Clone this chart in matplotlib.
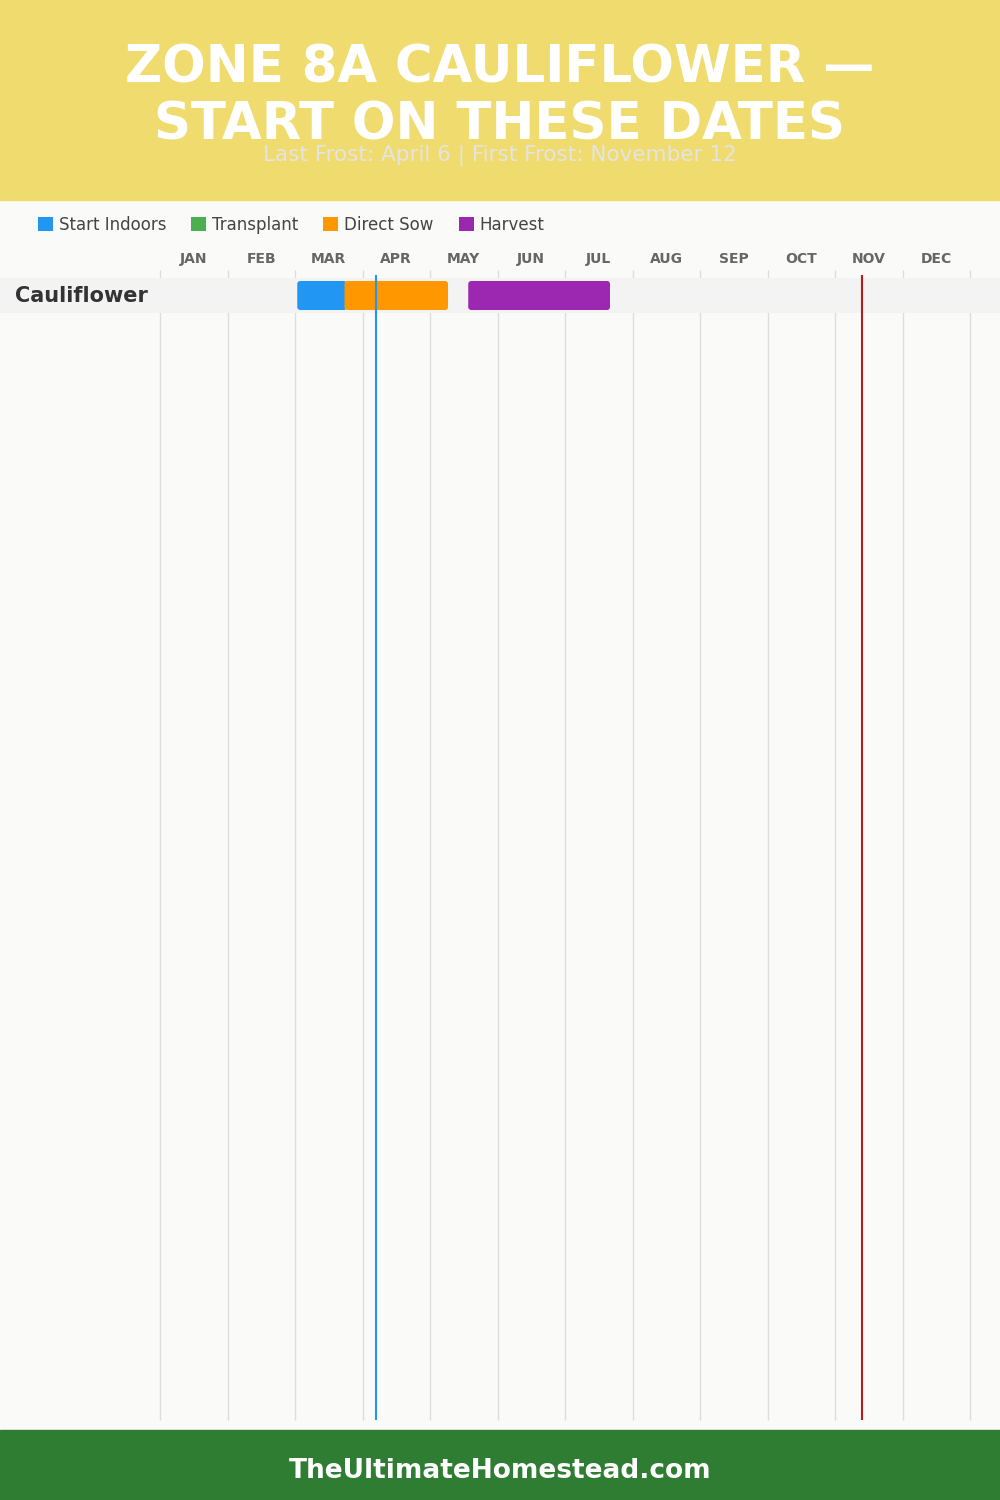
import matplotlib
matplotlib.use('Agg')
import matplotlib.pyplot as plt
import matplotlib.transforms as mtransforms
from matplotlib.patches import Rectangle, FancyBboxPatch, Patch

# data
title = 'ZONE 8A CAULIFLOWER —\nSTART ON THESE DATES'
subtitle = 'Last Frost: April 6 | First Frost: November 12'
footer = 'TheUltimateHomestead.com'

months = ['JAN', 'FEB', 'MAR', 'APR', 'MAY', 'JUN',
          'JUL', 'AUG', 'SEP', 'OCT', 'NOV', 'DEC']
crops = ['Cauliflower']
stages = ['Start Indoors', 'Transplant', 'Direct Sow', 'Harvest']
stage_colors = ['#2196F3', '#4CAF50', '#FF9800', '#9C27B0']

bar_crop = ['Cauliflower', 'Cauliflower', 'Cauliflower']
bar_stage = ['Start Indoors', 'Direct Sow', 'Harvest']
bar_start = [(3, 1), (3, 22), (5, 17)]   # (month, day)
bar_end = [(3, 23), (5, 8), (7, 20)]
last_frost = (4, 6)
first_frost = (11, 12)


def mpos(md):
    return md[0] - 1 + md[1] / 30


# layout (pixels of a 1000x1500 figure)
W, H = 1000, 1500
x0, mw = 160, 67.5          # left of JAN, width of one month
ax_top, ax_bot = 200, 1430
row_c, row_h = 295.5, 35    # centre of first row, row height


def py(p):
    return (p - row_c) / row_h


fig = plt.figure(figsize=(10, 15), dpi=100)
fig.patch.set_facecolor('#FAFAF9')

ax = fig.add_axes([0, 1 - ax_bot / H, 1, (ax_bot - ax_top) / H])
ax.set_xlim(-x0 / mw, (W - x0) / mw)
ax.set_ylim(py(ax_bot), py(ax_top))
ax.axis('off')

# header / footer bands
fig.add_artist(Rectangle((0, 1 - 200 / H), 1, 200 / H, transform=fig.transFigure,
                         color='#F0DB6E', zorder=0))
fig.add_artist(Rectangle((0, 0), 1, 70 / H, transform=fig.transFigure,
                         color='#2E7D32', zorder=0))
fig.text(0.5, 1 - 97 / H, title, ha='center', va='center', color='white',
         fontsize=37, fontweight='heavy', linespacing=1.2, family='DejaVu Sans')
fig.text(0.5, 1 - 155 / H, subtitle, ha='center', va='center', color='#E4E4E4',
         fontsize=15.5, family='DejaVu Sans')
fig.text(0.5, 29 / H, footer, ha='center', va='center', color='white',
         fontsize=19, fontweight='bold', family='DejaVu Sans')

# legend
handles = [Patch(facecolor=c, edgecolor='none', label=s)
           for s, c in zip(stages, stage_colors)]
fig.legend(handles=handles, loc='center left', bbox_to_anchor=(38 / W, 1 - 225 / H),
           ncol=4, frameon=False, fontsize=12, handlelength=0.9, handleheight=0.9,
           handletextpad=0.35, columnspacing=1.5, borderpad=0, borderaxespad=0,
           labelcolor='#444444')

# month grid and labels
ax.vlines(range(len(months) + 1), py(270), py(1420), color='#DDDDDD', lw=1, zorder=1)
for i, m in enumerate(months):
    ax.text(i + 0.5, py(259), m, ha='center', va='center', fontsize=10,
            fontweight='bold', color='#666666')

# rows
trans = mtransforms.blended_transform_factory(ax.transAxes, ax.transData)
for r, crop in enumerate(crops):
    ax.axhspan(r - 0.5, r + 0.5, color='#F3F3F3', zorder=2, lw=0)
    ax.text(15 / W, r, crop, transform=trans, ha='left', va='center',
            fontsize=15, fontweight='bold', color='#333333', zorder=5)

bh = 29 / row_h
rad = 3 / mw
for crop, st, s, e in zip(bar_crop, bar_stage, bar_start, bar_end):
    r = crops.index(crop)
    c = stage_colors[stages.index(st)]
    xs, xe = mpos(s), mpos(e)
    ax.add_patch(FancyBboxPatch((xs, r - bh / 2), xe - xs, bh,
                                boxstyle='round,pad=0,rounding_size=%f' % rad,
                                mutation_aspect=mw / row_h,
                                facecolor=c, edgecolor='none', zorder=3))

# frost lines
ax.vlines(mpos(last_frost), py(275), py(1420), color='#2196F3', lw=1.5, zorder=4)
ax.vlines(mpos(first_frost), py(275), py(1420), color='#B71C1C', lw=1.5, zorder=4)

fig.savefig('out.png', dpi=100, facecolor=fig.get_facecolor())
